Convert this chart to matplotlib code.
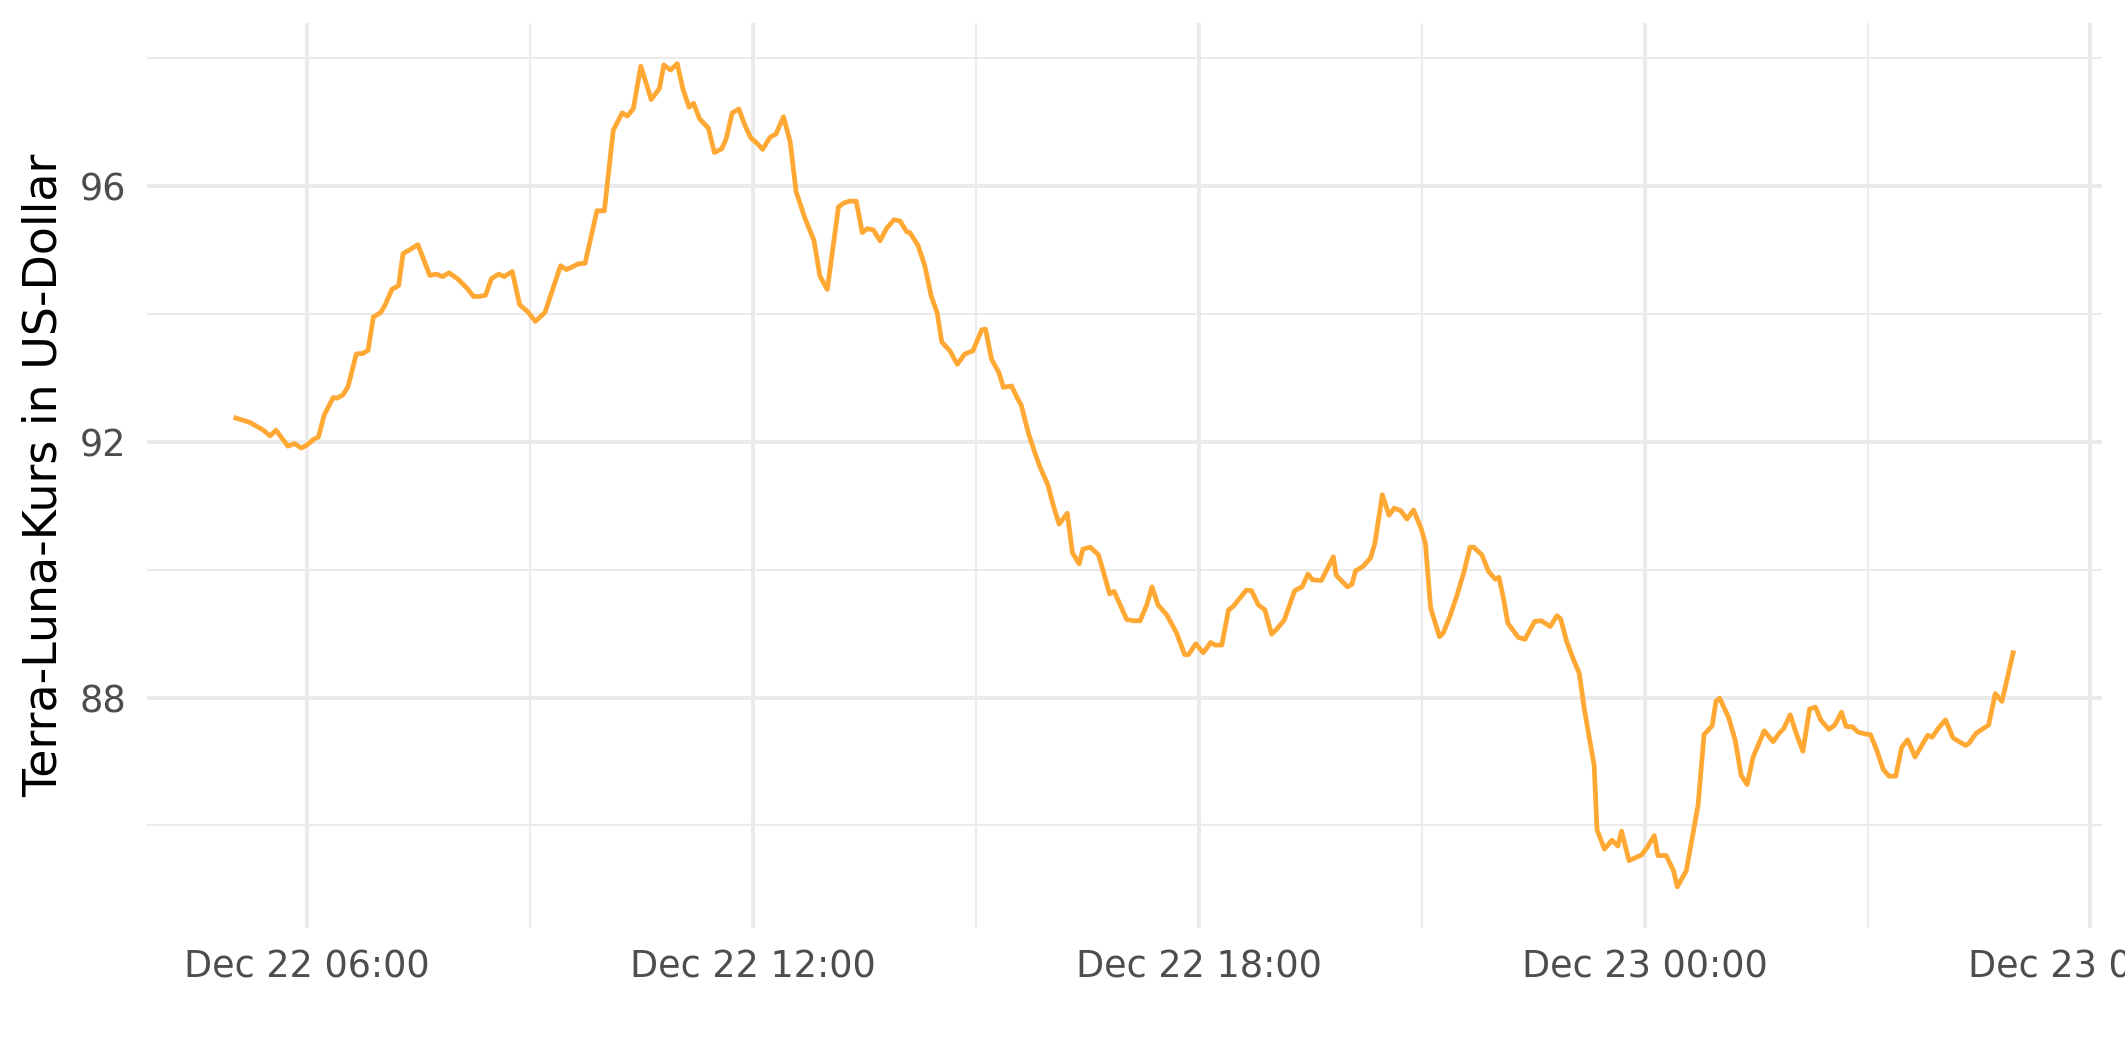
import matplotlib
matplotlib.use("Agg")
import matplotlib.pyplot as plt
import matplotlib.dates as mdates
from matplotlib.ticker import MultipleLocator
import pandas as pd

# hours after 2021-12-22 00:00
hours = [
    5.04, 5.23, 5.41, 5.50, 5.58, 5.74, 5.83, 5.92, 6.00, 6.09, 6.15, 6.23, 6.35, 6.40,
    6.48, 6.55, 6.66, 6.75, 6.82, 6.89, 6.99, 7.05, 7.14, 7.23, 7.29, 7.38, 7.49, 7.65,
    7.74, 7.82, 7.91, 8.03, 8.15, 8.24, 8.32, 8.40, 8.48, 8.58, 8.65, 8.76, 8.86, 8.97,
    9.07, 9.20, 9.41, 9.49, 9.65, 9.74, 9.90, 10.00, 10.04, 10.12, 10.24, 10.31, 10.39,
    10.49, 10.63, 10.74, 10.80, 10.89, 10.98, 11.06, 11.14, 11.20, 11.28, 11.40, 11.48,
    11.58, 11.64, 11.72, 11.81, 11.89, 11.97, 12.05, 12.13, 12.23, 12.31, 12.41, 12.50,
    12.58, 12.70, 12.82, 12.90, 13.00, 13.15, 13.22, 13.30, 13.39, 13.47, 13.54, 13.62,
    13.71, 13.80, 13.90, 13.98, 14.07, 14.11, 14.22, 14.31, 14.40, 14.48, 14.54, 14.65,
    14.75, 14.85, 14.96, 15.08, 15.13, 15.21, 15.31, 15.37, 15.48, 15.55, 15.61, 15.71,
    15.79, 15.86, 15.97, 16.04, 16.12, 16.23, 16.30, 16.39, 16.44, 16.54, 16.65, 16.71,
    16.80, 16.86, 17.03, 17.12, 17.21, 17.30, 17.37, 17.45, 17.57, 17.70, 17.81, 17.86,
    17.96, 18.06, 18.16, 18.22, 18.31, 18.40, 18.46, 18.64, 18.71, 18.80, 18.89, 18.98,
    19.05, 19.15, 19.29, 19.39, 19.47, 19.53, 19.65, 19.81, 19.85, 20.00, 20.06, 20.11,
    20.21, 20.31, 20.37, 20.47, 20.56, 20.63, 20.72, 20.80, 20.89, 20.99, 21.05, 21.12,
    21.24, 21.29, 21.38, 21.47, 21.57, 21.65, 21.70, 21.81, 21.90, 21.99, 22.04, 22.10,
    22.16, 22.30, 22.39, 22.52, 22.61, 22.73, 22.82, 22.87, 22.95, 23.04, 23.12, 23.19,
    23.26, 23.32, 23.36, 23.46, 23.56, 23.64, 23.69, 23.79, 23.96, 24.03, 24.13, 24.18,
    24.29, 24.39, 24.44, 24.56, 24.60, 24.66, 24.72, 24.80, 24.91, 24.96, 25.01, 25.13,
    25.22, 25.30, 25.38, 25.46, 25.61, 25.73, 25.81, 25.87, 25.96, 26.04, 26.13, 26.22,
    26.30, 26.37, 26.48, 26.56, 26.65, 26.71, 26.80, 26.87, 26.97, 27.04, 27.13, 27.21,
    27.29, 27.38, 27.46, 27.54, 27.64, 27.81, 27.87, 27.96, 28.05, 28.15, 28.32, 28.37,
    28.46, 28.55, 28.63, 28.72, 28.81, 28.96,
]

price = [
    92.37, 92.30, 92.18, 92.09, 92.18, 91.93, 91.97, 91.90, 91.95, 92.04, 92.07, 92.42, 92.69, 92.68,
    92.73, 92.86, 93.37, 93.38, 93.43, 93.95, 94.02, 94.14, 94.38, 94.44, 94.94, 95.00, 95.08, 94.60,
    94.62, 94.58, 94.64, 94.54, 94.40, 94.27, 94.27, 94.29, 94.55, 94.62, 94.58, 94.66, 94.14, 94.03,
    93.88, 94.02, 94.75, 94.69, 94.78, 94.79, 95.61, 95.61, 96.04, 96.87, 97.14, 97.09, 97.21,
    97.87, 97.35, 97.52, 97.89, 97.81, 97.91, 97.50, 97.23, 97.29, 97.05, 96.90, 96.52,
    96.58, 96.74, 97.14, 97.20, 96.95, 96.75, 96.67, 96.57, 96.76, 96.81, 97.08, 96.69,
    95.91, 95.49, 95.15, 94.59, 94.38, 95.67, 95.73, 95.76, 95.76, 95.27, 95.33, 95.31,
    95.14, 95.34, 95.47, 95.45, 95.28, 95.27, 95.07, 94.76, 94.27, 94.01, 93.56, 93.42,
    93.21, 93.37, 93.42, 93.75, 93.76, 93.29, 93.08, 92.85, 92.87, 92.70, 92.57, 92.12,
    91.84, 91.61, 91.32, 91.01, 90.71, 90.88, 90.26, 90.09, 90.32, 90.35, 90.23, 89.99,
    89.62, 89.66, 89.22, 89.20, 89.20, 89.45, 89.73, 89.45, 89.29, 89.01, 88.67, 88.67,
    88.84, 88.70, 88.86, 88.82, 88.82, 89.37, 89.42, 89.68, 89.67, 89.45, 89.37, 88.99,
    89.07, 89.21, 89.67, 89.73, 89.93, 89.84, 89.83, 90.20, 89.91, 89.73, 89.77, 89.98,
    90.05, 90.18, 90.41, 91.17, 90.85, 90.96, 90.92, 90.79, 90.93, 90.65, 90.41, 89.40,
    88.95, 89.01, 89.27, 89.58, 89.97, 90.35, 90.35, 90.23, 89.97, 89.85, 89.88, 89.55,
    89.16, 88.94, 88.91, 89.19, 89.20, 89.11, 89.28, 89.23, 88.88, 88.60, 88.38, 87.81,
    87.34, 86.95, 85.93, 85.63, 85.77, 85.68, 85.91, 85.45, 85.54, 85.65, 85.84, 85.53,
    85.53, 85.29, 85.04, 85.29, 85.54, 85.93, 86.32, 87.42, 87.56, 87.94, 87.99, 87.69,
    87.33, 86.78, 86.64, 87.07, 87.48, 87.31, 87.44, 87.51, 87.73, 87.44, 87.16, 87.82,
    87.85, 87.65, 87.50, 87.57, 87.77, 87.55, 87.54, 87.46, 87.43, 87.42, 87.16, 86.88,
    86.77, 86.77, 87.22, 87.34, 87.07, 87.41, 87.38, 87.53, 87.65, 87.37, 87.25, 87.29,
    87.44, 87.51, 87.57, 88.06, 87.94, 88.70,
]

y_label = "Terra-Luna-Kurs in US-Dollar"

times = pd.Timestamp("2021-12-22") + pd.to_timedelta(hours, unit="h")

W, H = 2125, 1062
fig = plt.figure(figsize=(W / 300, H / 300), dpi=300)
ax = fig.add_axes([147 / W, 1 - 928 / H, (2102 - 147) / W, (928 - 22.5) / H])

ax.plot(times, price, color="#FFA833", linewidth=1.15)
ax.margins(x=0.05, y=0.05)

ax.xaxis.set_major_locator(mdates.HourLocator(byhour=[0, 6, 12, 18]))
ax.xaxis.set_minor_locator(mdates.HourLocator(byhour=[3, 9, 15, 21]))
ax.xaxis.set_major_formatter(mdates.DateFormatter("%b %d %H:%M"))
ax.yaxis.set_major_locator(MultipleLocator(4))
ax.yaxis.set_minor_locator(MultipleLocator(2))

ax.grid(which="major", color="#EBEBEB", linewidth=0.95)
ax.grid(which="minor", color="#EBEBEB", linewidth=0.5)
ax.set_axisbelow(True)
for s in ax.spines.values():
    s.set_visible(False)

ax.tick_params(which="both", length=0)
ax.tick_params(axis="x", labelsize=8.8, labelcolor="#4D4D4D", pad=5)
ax.tick_params(axis="y", labelsize=8.8, labelcolor="#4D4D4D", pad=5)

ax.set_ylabel(y_label, fontsize=11, color="black")
ax.yaxis.set_label_coords(-0.041, 0.5)

fig.savefig("out.png", dpi=300, facecolor="white")
